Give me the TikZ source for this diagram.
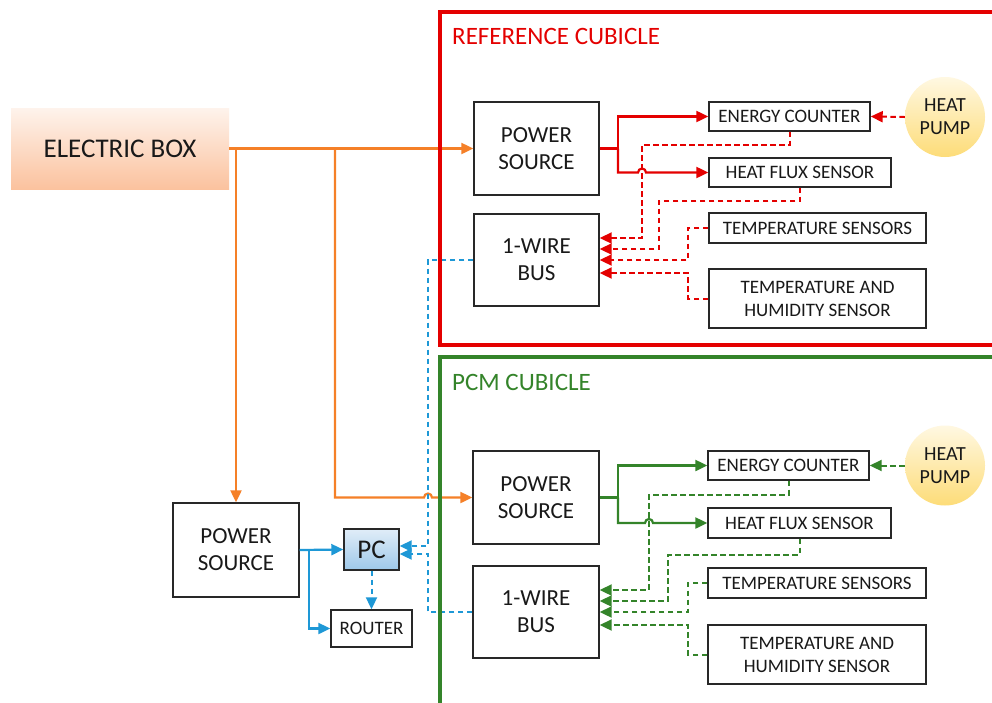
\documentclass[tikz,border=0pt]{standalone}
\usepackage{fontspec}
\setmainfont{Carlito}
\usetikzlibrary{arrows.meta}
\definecolor{cred}{RGB}{228,0,0}
\definecolor{cgreen}{RGB}{52,132,42}
\definecolor{corange}{RGB}{245,128,40}
\definecolor{cblue}{RGB}{30,152,214}
\definecolor{ebtop}{RGB}{254,243,236}
\definecolor{ebbot}{RGB}{251,194,158}
\definecolor{hptop}{RGB}{255,248,226}
\definecolor{hpbot}{RGB}{253,220,120}
\definecolor{pctop}{RGB}{224,237,248}
\definecolor{pcbot}{RGB}{158,200,233}
\definecolor{txt}{RGB}{25,25,25}
\definecolor{bord}{RGB}{40,40,40}
\tikzset{
  box/.style={draw=bord, line width=1.4pt, fill=white, inner sep=0pt, align=center, text=txt},
  sens/.style={box, font=\fontsize{19}{23}\selectfont},
  big/.style={box, font=\fontsize{23}{27}\selectfont},
  hpump/.style={circle, minimum size=80pt, inner sep=0pt, top color=hptop, bottom color=hpbot, draw=none, align=center, text=txt, font=\fontsize{20}{23}\selectfont},
  tip/.style={-{Triangle[length=12pt,width=11pt]}},
  sol/.style={tip, line width=2.2pt},
  dsh/.style={tip, line width=2pt, dash pattern=on 5.5pt off 3.5pt},
  frame/.style={line width=4pt},
  ttl/.style={anchor=west, font=\fontsize{25}{28}\selectfont, inner sep=0pt}
}
\begin{document}
\begin{tikzpicture}[x=1pt,y=-1pt]
\clip (0,0) rectangle (992,702);
\fill[white] (0,0) rectangle (992,702);
% nodes
\node[inner sep=0pt, minimum width=218pt, minimum height=81pt, top color=ebtop, bottom color=ebbot, text=txt, font=\fontsize{27}{30}\selectfont] (eb) at (120,148.5) {ELECTRIC BOX};
\node[big, minimum width=125pt, minimum height=93pt] (ps1) at (536.5,148.5) {POWER\\SOURCE};
\node[big, minimum width=125pt, minimum height=92pt] (bus1) at (536.5,260) {1-WIRE\\BUS};
\node[sens, minimum width=161pt, minimum height=29pt] (ec1) at (789.5,116.5) {ENERGY COUNTER};
\node[sens, minimum width=182pt, minimum height=29pt] (hf1) at (800,172.5) {HEAT FLUX SENSOR};
\node[sens, minimum width=217pt, minimum height=30pt] (ts1) at (817.5,228) {TEMPERATURE SENSORS};
\node[sens, minimum width=217pt, minimum height=59pt] (th1) at (817.5,298.5) {TEMPERATURE AND\\HUMIDITY SENSOR};
\node[hpump] (hp1) at (945,117) {HEAT\\PUMP};

\node[big, minimum width=126pt, minimum height=93pt] (ps2) at (536,497.5) {POWER\\SOURCE};
\node[big, minimum width=126pt, minimum height=92pt] (bus2) at (536,612) {1-WIRE\\BUS};
\node[sens, minimum width=161pt, minimum height=29pt] (ec2) at (788.5,465.5) {ENERGY COUNTER};
\node[sens, minimum width=183pt, minimum height=30pt] (hf2) at (799.5,523) {HEAT FLUX SENSOR};
\node[sens, minimum width=218pt, minimum height=30pt] (ts2) at (817,583) {TEMPERATURE SENSORS};
\node[sens, minimum width=218pt, minimum height=59pt] (th2) at (817,654.5) {TEMPERATURE AND\\HUMIDITY SENSOR};
\node[hpump] (hp2) at (945,465.5) {HEAT\\PUMP};

\node[big, minimum width=126pt, minimum height=94pt] (ps3) at (236,550) {POWER\\SOURCE};
\node[box, draw=bord, top color=pctop, bottom color=pcbot, minimum width=55pt, minimum height=41pt, font=\fontsize{27}{30}\selectfont] (pc) at (371.5,549.5) {PC};
\node[sens, minimum width=81pt, minimum height=37pt] (router) at (371.5,628.5) {ROUTER};

% orange power lines
\draw[sol, corange] (eb.east) -- (ps1.west);
\draw[sol, corange] (236,148.5) -- (ps3.north);
\draw[sol, corange] (335,148.5) -- (335,497.5) -- (424,497.5) arc(180:360:4) -- (ps2.west);

% red solid
\draw[line width=2.2pt, cred] (ps1.east) -- (618,148.5);
\draw[sol, cred] (618,148.5) |- (ec1.west);
\draw[sol, cred] (618,148.5) -- (618,172.5) -- (638,172.5) arc(180:360:4) -- (hf1.west);
% red dashed
\draw[dsh, cred] (ec1.south) -- (789.5,145) -- (642,145) -- (642,238) -- (bus1.east |- 0,238);
\draw[dsh, cred] (hf1.south) -- (800,201) -- (659,201) -- (659,249) -- (bus1.east |- 0,249);
\draw[dsh, cred] (ts1.west) -- (688,228) -- (688,260) -- (bus1.east |- 0,260);
\draw[dsh, cred] (th1.west) -- (688,298.5) -- (688,273) -- (bus1.east |- 0,273);
\draw[dsh, cred] (hp1.west) -- (ec1.east);

% green solid
\draw[line width=2.2pt, cgreen] (ps2.east) -- (618,497.5);
\draw[sol, cgreen] (618,497.5) |- (ec2.west);
\draw[sol, cgreen] (618,497.5) -- (618,523) -- (645,523) arc(180:360:4) -- (hf2.west);
% green dashed
\draw[dsh, cgreen] (ec2.south) -- (788.5,495) -- (649,495) -- (649,590) -- (bus2.east |- 0,590);
\draw[dsh, cgreen] (hf2.south) -- (799.5,555) -- (668,555) -- (668,601) -- (bus2.east |- 0,601);
\draw[dsh, cgreen] (ts2.west) -- (688,583) -- (688,612) -- (bus2.east |- 0,612);
\draw[dsh, cgreen] (th2.west) -- (688,654.5) -- (688,625) -- (bus2.east |- 0,625);
\draw[dsh, cgreen] (hp2.west) -- (ec2.east);

% blue
\draw[sol, cblue] (ps3.east) -- (pc.west);
\draw[sol, cblue] (309,550) |- (router.west);
\draw[dsh, cblue] (pc.south) -- (router.north);
\draw[dsh, cblue] (bus1.west) -- (428,260) -- (428,546) -- (pc.east |- 0,546);
\draw[dsh, cblue] (bus2.west) -- (428,612) -- (428,554) -- (pc.east |- 0,554);

% cubicle frames
\draw[frame, cred] (440,12) rectangle (1010,345);
\draw[frame, cgreen] (440,357) rectangle (1010,720);
\node[ttl, text=cred] (t1) at (452,36) {REFERENCE CUBICLE};
\node[ttl, text=cgreen] (t2) at (452,382) {PCM CUBICLE};
\end{tikzpicture}
\end{document}
